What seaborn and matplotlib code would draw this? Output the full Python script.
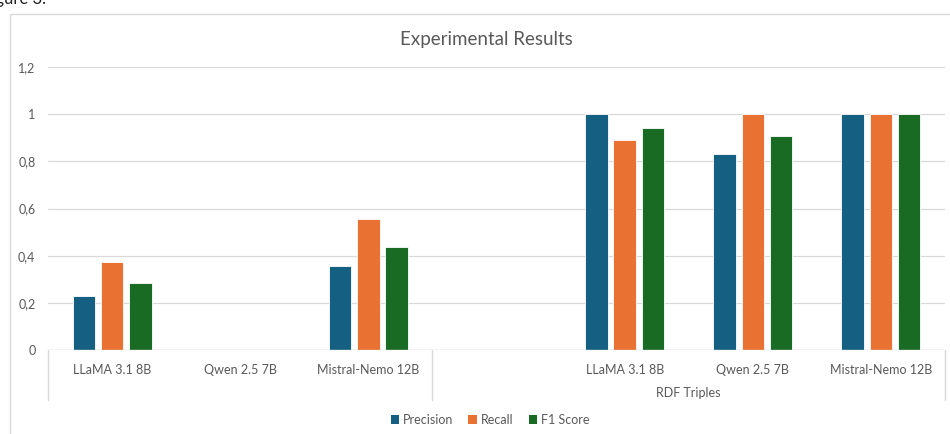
import numpy as np
import pandas as pd
import matplotlib
matplotlib.use("Agg")
import matplotlib.pyplot as plt
from matplotlib.patches import Patch, Rectangle
import seaborn as sns

# values
models = ["LLaMA 3.1 8B", "Qwen 2.5 7B", "Mistral-Nemo 12B"]
group_labels = ["", "RDF Triples"]
metrics = ["Precision", "Recall", "F1 Score"]

base_precision = [0.231, 0.0, 0.357]
base_recall = [0.375, 0.0, 0.556]
base_f1 = [0.286, 0.0, 0.435]

rdf_precision = [1.0, 0.833, 1.0]
rdf_recall = [0.889, 1.0, 1.0]
rdf_f1 = [0.941, 0.909, 1.0]

colors = ["#156082", "#E97132", "#196B24"]
yticks = [0, 0.2, 0.4, 0.6, 0.8, 1.0, 1.2]

# long table for seaborn
rows = []
for grp, vals in zip(group_labels, [(base_precision, base_recall, base_f1),
                                    (rdf_precision, rdf_recall, rdf_f1)]):
    for metric, series in zip(metrics, vals):
        for m, v in zip(models, series):
            rows.append({"Category": f"{grp}|{m}", "Metric": metric, "Value": v})
df = pd.DataFrame(rows)

# order: first group, an empty slot, then RDF group
order = [f"|{m}" for m in models] + ["spacer"] + [f"RDF Triples|{m}" for m in models]
tick_text = models + [""] + models

sns.set_theme(style="white")
plt.rcParams["font.family"] = ["Lato", "DejaVu Sans"]
txt = "#595959"
line_c = "#d9d9d9"

fig = plt.figure(figsize=(9.5, 4.34), dpi=100)
W, H = 950, 434
ax = fig.add_axes([48 / W, 1 - 350 / H, (945 - 48) / W, (350 - 67) / H])

sns.barplot(data=df, x="Category", y="Value", hue="Metric", order=order,
            hue_order=metrics, palette=colors, width=0.66, gap=0.2,
            edgecolor="white", linewidth=0.6, saturation=1, legend=False,
            ax=ax, zorder=2)

ax.set_xlim(-0.5, len(order) - 0.5)
ax.set_ylim(0, 1.2)
ax.set_yticks(yticks)
ax.set_yticklabels([f"{t:g}".replace(".", ",") for t in yticks],
                   color=txt, fontsize=9)
ax.set_xticks(range(len(order)))
ax.set_xticklabels(tick_text, color=txt, fontsize=9)
ax.tick_params(axis="y", length=0, pad=9)
ax.tick_params(axis="x", length=0, pad=10)
ax.set_xlabel("")
ax.set_ylabel("")
for s in ax.spines.values():
    s.set_visible(False)
ax.grid(axis="y", color=line_c, linewidth=0.9, zorder=0)
ax.set_axisbelow(True)

# category axis with group dividers
trans = ax.get_xaxis_transform()
ax.axhline(0, color=line_c, linewidth=1.0, zorder=3)
for xd in [-0.5, 2.5, len(order) - 0.5]:
    ax.plot([xd, xd], [0, -50 / (350 - 67)], transform=trans, color=line_c,
            linewidth=1.0, clip_on=False)
ax.text(4.5, -43 / (350 - 67), "RDF Triples", transform=trans, ha="center",
        va="center", color=txt, fontsize=9)

ax.set_title("Experimental Results", color=txt, fontsize=13.5, pad=16,
             x=(486 - 48) / (945 - 48))

# chart frame
fig.patches.append(Rectangle((10 / W, -0.1), 1.1, 1 - 14 / H + 0.1,
                             transform=fig.transFigure, fill=False,
                             edgecolor=line_c, linewidth=1.0))

# cropped caption fragment at top-left
fig.text(46 / W, 1 - 4 / H, "Figure 3.", ha="right", va="baseline",
         fontsize=12, color="#222222")

handles = [Patch(facecolor=c, edgecolor="none") for c in colors]
fig.legend(handles, metrics, loc="center", bbox_to_anchor=(490 / W, 1 - 420 / H),
           ncol=3, frameon=False, fontsize=9, labelcolor=txt,
           handlelength=0.7, handleheight=0.7, handletextpad=0.3,
           columnspacing=1.2)

fig.savefig("out.png", dpi=100)
